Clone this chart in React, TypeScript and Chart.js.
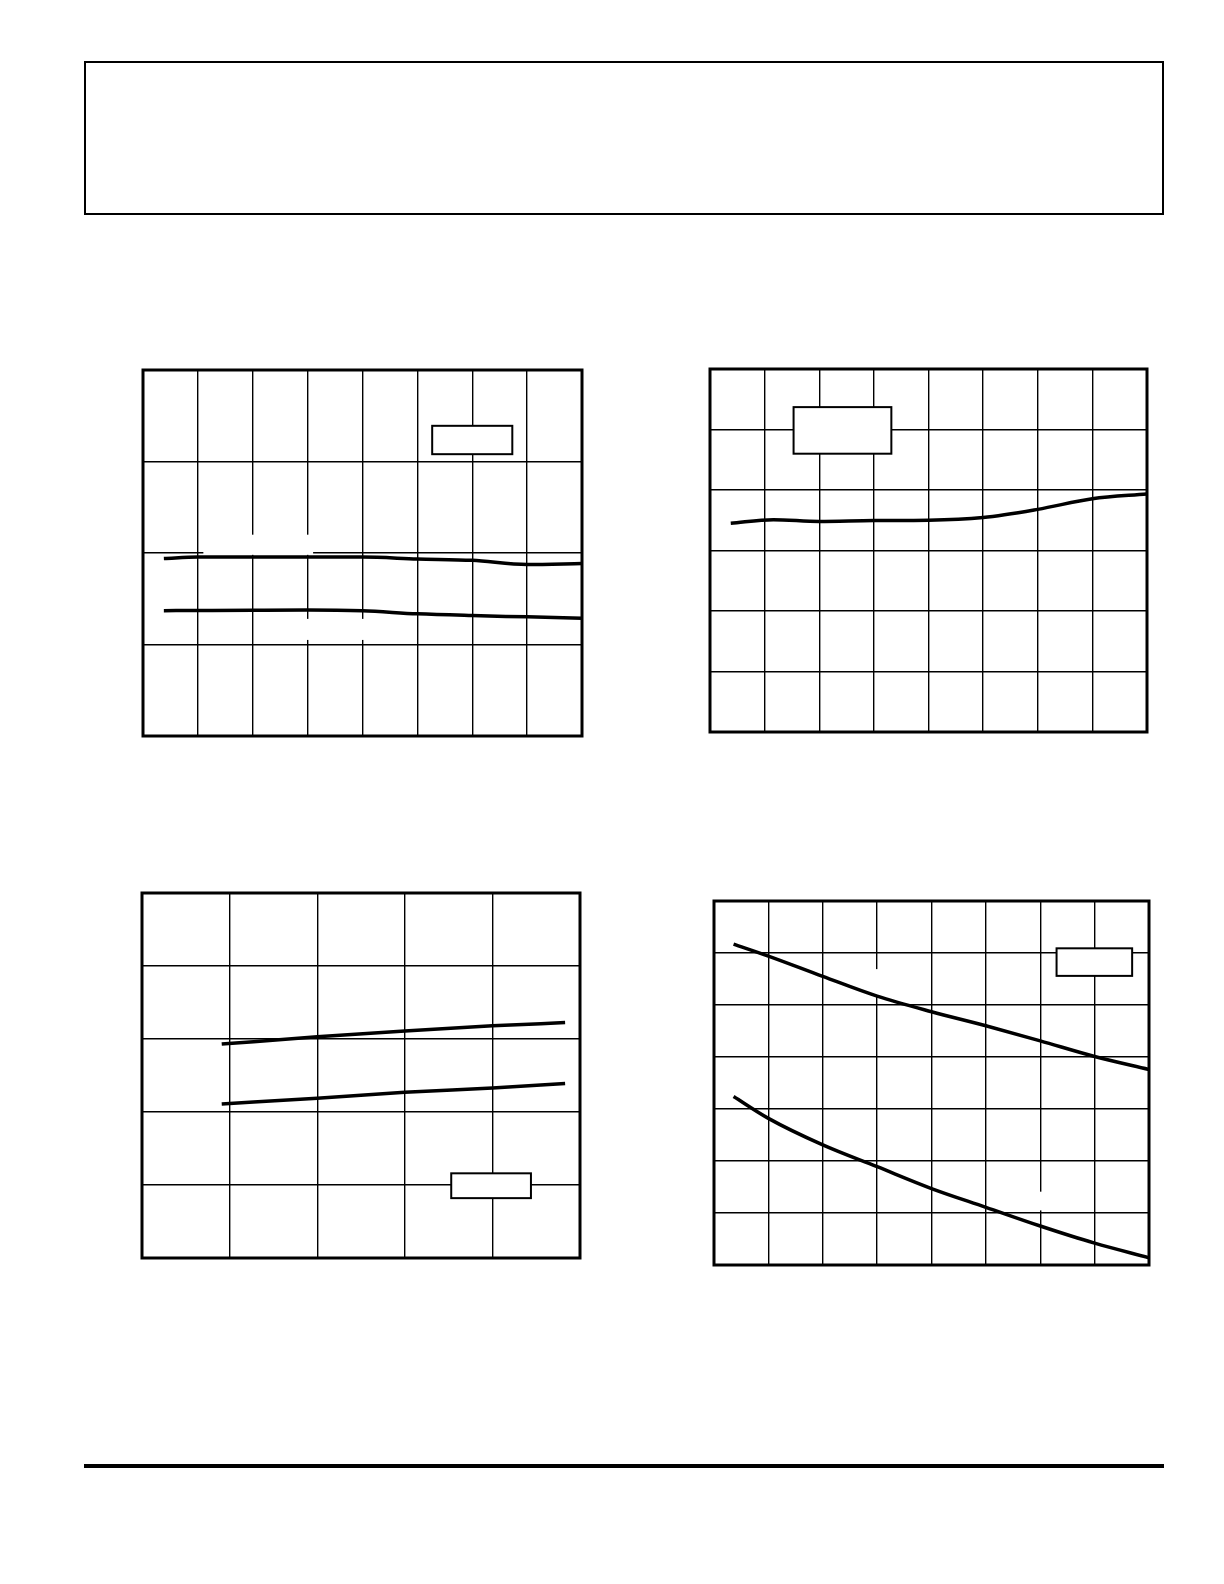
import React, { useEffect, useRef } from "react";
import { Chart, registerables } from "chart.js";

Chart.register(...registerables);

// top-left: two nearly flat curves, 8 x 4 grid
const c1X = [0.38, 1, 2, 3, 4, 5, 6, 7, 8];
const c1Upper = [1.94, 1.955, 1.955, 1.955, 1.955, 1.935, 1.92, 1.875, 1.885];
const c1Lower = [1.37, 1.372, 1.375, 1.377, 1.368, 1.335, 1.316, 1.302, 1.287];

// top-right: one curve rising at the end, 8 x 6 grid
const c2X = [0.38, 1.16, 2, 3, 4, 5, 6, 7, 8];
const c2Y = [3.45, 3.51, 3.48, 3.495, 3.5, 3.545, 3.68, 3.855, 3.935];

// bottom-left: two straight rising lines, 5 x 5 grid
const c3X = [0.91, 2, 3, 4, 4.83];
const c3Upper = [2.93, 3.03, 3.11, 3.18, 3.225];
const c3Lower = [2.11, 2.19, 2.27, 2.33, 2.39];

// bottom-right: two falling curves, 8 x 7 grid
const c4X = [0.36, 1, 2, 3, 4, 5, 6, 7, 8];
const c4Upper = [6.17, 5.94, 5.55, 5.17, 4.87, 4.6, 4.31, 4.01, 3.76];
const c4Lower = [3.24, 2.82, 2.31, 1.89, 1.47, 1.11, 0.75, 0.42, 0.14];

const PAD = 4;

type Box = { x0: number; x1: number; y0: number; y1: number };

interface PanelProps {
    left: number;
    top: number;
    width: number;
    height: number;
    xMax: number;
    yMax: number;
    xs: number[];
    series: number[][];
    boxes?: Box[];
    gaps?: Box[];
}

const framePlugin = {
    id: "frame",
    beforeDatasetsDraw(chart: any, _args: any, opts: any) {
        const { ctx, scales } = chart;
        ctx.save();
        ctx.fillStyle = "#fff";
        (opts.gaps || []).forEach((g: Box) => {
            const x0 = scales.x.getPixelForValue(g.x0);
            const x1 = scales.x.getPixelForValue(g.x1);
            const y0 = scales.y.getPixelForValue(g.y1);
            const y1 = scales.y.getPixelForValue(g.y0);
            ctx.fillRect(x0, y0, x1 - x0, y1 - y0);
        });
        ctx.restore();
    },
    afterDraw(chart: any, _args: any, opts: any) {
        const { ctx, chartArea, scales } = chart;
        ctx.save();
        (opts.boxes || []).forEach((b: Box) => {
            const x0 = scales.x.getPixelForValue(b.x0);
            const x1 = scales.x.getPixelForValue(b.x1);
            const y0 = scales.y.getPixelForValue(b.y1);
            const y1 = scales.y.getPixelForValue(b.y0);
            ctx.fillStyle = "#fff";
            ctx.fillRect(x0, y0, x1 - x0, y1 - y0);
            ctx.strokeStyle = "#000";
            ctx.lineWidth = 2;
            ctx.strokeRect(x0, y0, x1 - x0, y1 - y0);
        });
        ctx.strokeStyle = "#000";
        ctx.lineWidth = 3;
        ctx.strokeRect(
            chartArea.left,
            chartArea.top,
            chartArea.right - chartArea.left,
            chartArea.bottom - chartArea.top
        );
        ctx.restore();
    },
};

function Panel({ left, top, width, height, xMax, yMax, xs, series, boxes, gaps }: PanelProps) {
    const canvasRef = useRef<HTMLCanvasElement | null>(null);

    useEffect(() => {
        if (!canvasRef.current) return;

        const chart = new Chart(canvasRef.current, {
            type: "line",
            data: {
                datasets: series.map((ys) => ({
                    data: xs.map((x, i) => ({ x, y: ys[i] })),
                    borderColor: "#000",
                    borderWidth: 3.5,
                    pointRadius: 0,
                    cubicInterpolationMode: "monotone",
                    fill: false,
                })),
            },
            options: {
                animation: false,
                responsive: false,
                maintainAspectRatio: false,
                layout: { padding: PAD },
                events: [],
                plugins: {
                    legend: { display: false },
                    tooltip: { enabled: false },
                    // @ts-ignore
                    frame: { boxes, gaps },
                },
                scales: {
                    x: {
                        type: "linear",
                        min: 0,
                        max: xMax,
                        ticks: { display: false, stepSize: 1 },
                        grid: { color: "#000", lineWidth: 1.4, drawTicks: false },
                        border: { display: false },
                    },
                    y: {
                        type: "linear",
                        min: 0,
                        max: yMax,
                        ticks: { display: false, stepSize: 1 },
                        grid: { color: "#000", lineWidth: 1.4, drawTicks: false },
                        border: { display: false },
                    },
                },
            },
            plugins: [framePlugin],
        });

        return () => chart.destroy();
    }, [xMax, yMax, xs, series, boxes, gaps]);

    const w = Math.round(width + PAD * 2);
    const h = Math.round(height + PAD * 2);
    return (
        <canvas
            ref={canvasRef}
            width={w}
            height={h}
            style={{
                position: "absolute",
                left: left - PAD,
                top: top - PAD,
                width: w,
                height: h,
            }}
        />
    );
}

const c1Series = [c1Upper, c1Lower];
const c2Series = [c2Y];
const c3Series = [c3Upper, c3Lower];
const c4Series = [c4Upper, c4Lower];

const c1Boxes = [{ x0: 5.27, x1: 6.73, y0: 3.08, y1: 3.39 }];
const c1Gaps = [
    { x0: 1.1, x1: 3.1, y0: 1.98, y1: 2.2 },
    { x0: 2.9, x1: 4.1, y0: 1.05, y1: 1.28 },
];
const c2Boxes = [{ x0: 1.53, x1: 3.32, y0: 4.6, y1: 5.37 }];
const c3Boxes = [{ x0: 3.53, x1: 4.44, y0: 0.82, y1: 1.16 }];
const c4Boxes = [{ x0: 6.3, x1: 7.69, y0: 5.56, y1: 6.09 }];
const c4Gaps = [
    { x0: 2.9, x1: 3.1, y0: 5.17, y1: 5.69 },
    { x0: 5.9, x1: 6.1, y0: 1.05, y1: 1.41 },
];

export default function App() {
    return (
        <div
            style={{
                position: "absolute",
                left: 0,
                top: 0,
                width: 1224,
                height: 1584,
                background: "#fff",
            }}
        >
            <div
                style={{
                    position: "absolute",
                    left: 84,
                    top: 61,
                    width: 1080,
                    height: 154,
                    border: "2px solid #000",
                    boxSizing: "border-box",
                }}
            />
            <Panel
                left={142.7}
                top={370}
                width={439}
                height={365.7}
                xMax={8}
                yMax={4}
                xs={c1X}
                series={c1Series}
                boxes={c1Boxes}
                gaps={c1Gaps}
            />
            <Panel
                left={710}
                top={369}
                width={436.7}
                height={363.3}
                xMax={8}
                yMax={6}
                xs={c2X}
                series={c2Series}
                boxes={c2Boxes}
            />
            <Panel
                left={142}
                top={893}
                width={438}
                height={365.3}
                xMax={5}
                yMax={5}
                xs={c3X}
                series={c3Series}
                boxes={c3Boxes}
            />
            <Panel
                left={714}
                top={901}
                width={435.3}
                height={364}
                xMax={8}
                yMax={7}
                xs={c4X}
                series={c4Series}
                boxes={c4Boxes}
                gaps={c4Gaps}
            />
            <div
                style={{
                    position: "absolute",
                    left: 84,
                    top: 1464,
                    width: 1080,
                    height: 4,
                    background: "#000",
                }}
            />
        </div>
    );
}
